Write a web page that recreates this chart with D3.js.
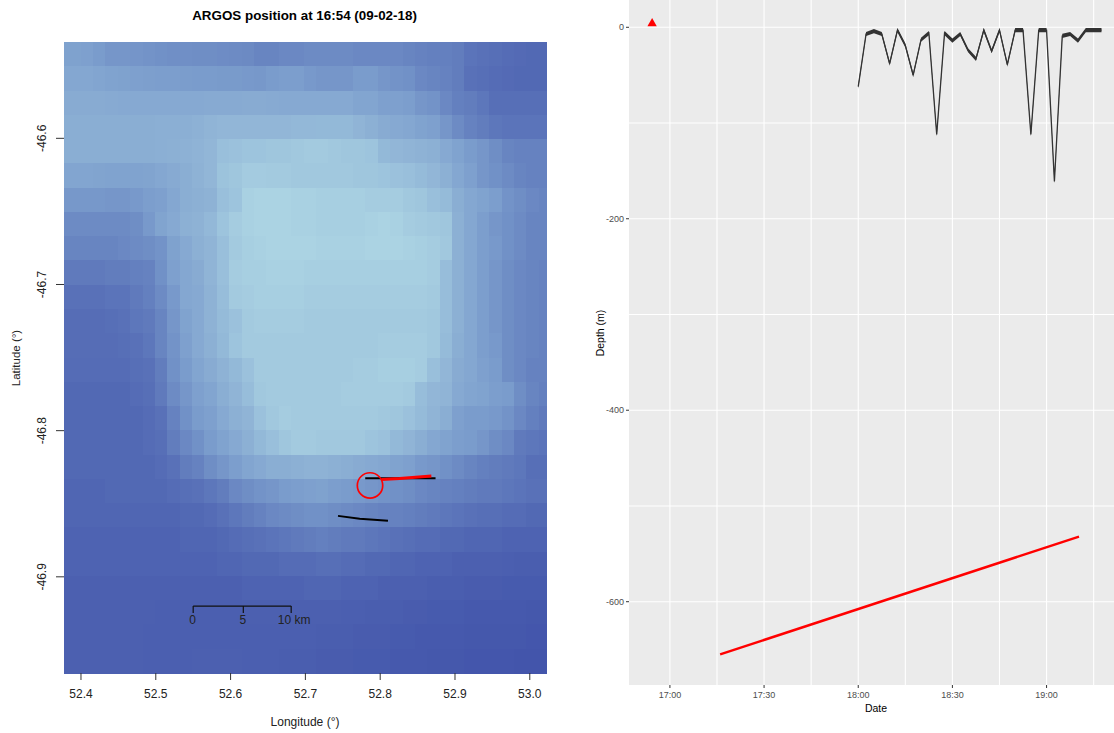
<!DOCTYPE html>
<html><head><meta charset="utf-8">
<script src="https://cdn.jsdelivr.net/npm/d3@7"></script>
<style>html,body{margin:0;padding:0;background:#fff}svg{display:block}text{font-family:"Liberation Sans",Arial,sans-serif}</style>
</head><body><svg id="c" width="1114" height="733"></svg>
<script>
// ---------- left panel data ----------
const titleText = "ARGOS position at 16:54 (09-02-18)";
const lonTicks = [52.4,52.5,52.6,52.7,52.8,52.9,53.0];
const latTicks = [-46.6,-46.7,-46.8,-46.9];
const gridFirstEdgeLon = 52.3996, gridStepLon = 0.01655;
const heatValues = [
[55,54,50,46,46,45,44,42,41,41, 40,40,39,38,37,34,34,36,36,38, 38,38,38,36,36,36,36,34,32,30, 30,28,22,20,18,16,15,14,14],
[60,60,58,56,55,54,53,52,52,51, 50,50,49,49,48,47,50,52,52,48, 46,46,46,50,50,46,44,42,36,34, 32,28,20,18,16,15,14,14,14],
[64,64,64,63,62,62,62,62,62,62, 62,63,63,63,64,64,63,62,62,62, 62,62,62,58,58,54,54,52,46,44, 36,30,28,24,18,18,18,18,18],
[66,66,66,66,66,66,66,67,67,67, 69,72,74,74,74,74,74,74,75,75, 76,76,76,72,68,64,62,60,56,54, 46,38,32,28,24,22,22,22,22],
[66,66,66,66,66,66,66,67,68,69, 71,74,82,84,86,86,88,88,90,92, 92,90,88,88,86,76,74,72,70,68, 62,56,50,46,40,34,32,32,32],
[58,58,57,56,56,56,57,60,63,66, 70,74,85,88,93,93,92,92,90,90, 90,90,90,88,88,86,84,82,78,74, 68,60,54,46,42,38,34,32,32],
[47,47,47,46,46,48,52,54,60,66, 68,70,82,86,98,100,100,100,98,98, 96,96,96,96,94,94,94,90,88,82, 78,66,60,56,52,44,40,36,34],
[38,38,38,38,38,40,48,57,62,68, 70,75,86,94,98,100,100,100,98,98, 96,96,96,96,98,100,98,94,92,90, 88,68,60,52,46,42,38,34,34],
[34,34,34,34,36,38,40,44,55,62, 68,72,82,92,96,98,100,100,100,100, 98,98,98,98,100,100,100,98,96,94, 90,68,60,52,48,42,38,34,34],
[26,26,26,28,28,30,32,42,54,60, 64,72,82,94,96,96,98,98,98,96, 96,96,96,96,96,96,96,96,96,94, 80,68,60,52,46,40,36,34,32],
[20,20,20,22,22,26,30,38,48,60, 62,70,80,92,94,96,96,96,96,94, 94,94,94,94,94,94,94,94,94,92, 80,68,60,52,46,40,36,34,32],
[17,17,17,18,20,24,26,34,46,56, 62,70,78,84,92,94,94,94,94,92, 92,92,92,92,92,92,92,92,92,90, 80,68,60,52,46,40,36,34,32],
[17,17,17,17,18,20,24,34,44,54, 62,68,76,86,92,92,92,92,92,92, 92,92,92,92,92,94,94,94,94,90, 78,66,60,52,48,40,36,34,32],
[16,16,16,16,16,18,20,28,42,50, 58,64,70,76,84,92,92,92,92,92, 92,92,92,94,94,96,96,96,94,82, 74,64,60,54,50,40,36,32,32],
[14,14,14,14,14,16,18,26,38,46, 54,58,66,72,80,90,92,92,92,92, 92,92,94,94,94,94,94,92,80,74, 72,62,58,56,52,50,40,34,30],
[14,14,14,14,14,14,16,20,32,42, 50,54,62,68,72,84,90,94,92,92, 92,92,92,92,92,90,88,84,78,72, 66,54,50,50,48,44,36,30,26],
[14,14,14,14,14,14,16,18,28,36, 42,50,56,62,68,76,82,88,92,92, 90,90,90,90,86,84,76,72,66,60, 56,52,50,46,40,36,26,24,22],
[14,14,14,14,14,14,14,16,20,28, 32,40,46,52,58,62,66,66,68,70, 70,68,66,64,62,60,56,54,48,46, 42,38,34,30,28,26,24,18,18],
[12,12,12,14,14,14,14,14,16,18, 20,24,28,36,40,44,46,50,52,54, 55,52,50,48,46,44,42,40,36,34, 32,30,28,26,26,24,22,20,20],
[12,12,12,12,12,12,12,12,12,14, 14,16,20,24,28,32,36,38,40,42, 42,40,38,36,34,32,32,30,28,26, 24,22,20,18,18,16,16,14,14],
[10,10,10,10,10,10,10,10,10,12, 12,12,14,16,18,20,22,24,26,28, 30,28,26,26,24,22,20,18,16,16, 14,14,12,12,12,10,10,10,10],
[10,10,10,10,10,10,10,10,10,10, 10,10,12,12,14,14,14,16,16,16, 18,18,16,16,14,14,12,12,10,10, 10,8,8,8,8,7,6,6,6],
[8,8,8,8,8,8,8,8,8,8, 8,8,8,8,10,10,10,10,10,12, 12,12,10,10,10,8,8,8,8,6, 6,6,5,5,5,4,4,4,4],
[8,8,8,8,8,8,8,7,7,7, 7,7,7,7,8,8,8,8,8,8, 8,8,7,7,6,6,6,5,5,4, 4,4,3,3,3,3,3,2,2],
[8,8,8,8,8,8,7,7,7,7, 7,7,7,7,7,7,7,7,7,7, 6,6,6,5,5,5,4,4,3,3, 3,3,2,2,2,2,2,1,1],
[8,8,8,8,8,8,7,7,7,7, 8,8,8,8,7,7,7,6,6,6, 5,5,5,4,4,4,3,3,3,2, 2,2,1,1,1,1,0,0,0]
];
const trackA = [[52.780,-46.8325],[52.874,-46.8325]];
const trackB = [[52.7436,-46.8583],[52.7726,-46.8602],[52.8104,-46.8617]];
const trackRed = [[52.8016,-46.8334],[52.826,-46.8328],[52.8684,-46.8311]];
const argosPos = [52.7864,-46.8375];
const scaleBarLons = [52.55,52.617,52.681];
const scaleBarLat = -46.92;
const scaleBarLabels = ["0","5","10 km"];

// ---------- right panel data ----------
const depthTicks = [0,-200,-400,-600];
const depthMinor = [-100,-300,-500];
const timeTicks = ["17:00","17:30","18:00","18:30","19:00"];
const timeMinor = ["17:15","17:45","18:15","18:45","19:15"];
const diveTimes = ["18:00:00","18:02:30","18:05:00","18:07:30","18:10:00","18:12:30","18:15:00","18:17:30","18:20:00","18:22:30","18:25:00","18:27:30","18:30:00","18:32:30","18:35:00","18:37:30","18:40:00","18:42:30","18:45:00","18:47:30","18:50:00","18:52:30","18:55:00","18:57:30","19:00:00","19:02:30","19:05:00","19:07:30","19:10:00","19:12:30","19:15:00","19:17:30"];
const diveDepths = [-62,-7,-4,-7,-38,-3,-19,-50,-13,-6,-112,-6,-14,-7,-24,-33,-3,-25,-3,-39,-3,-3,-112,-3,-3,-161,-9,-7,-14,-3,-3,-3];
const diveBandHalf = 2.2;
const redTimes = ["17:16:00","19:10:20"];
const redDepths = [-655,-532];
const markerTime = "16:54:20", markerDepth = 4;

// ---------- drawing ----------
const svg = d3.select("#c");
const L = {l:64,r:547,t:42,b:673};
const lon = d3.scaleLinear().domain([52.3773,53.0230]).range([L.l,L.r]);
const lat = d3.scaleLinear().domain([-46.9658,-46.5341]).range([L.b,L.t]);
const rowBand = d3.scaleBand().domain(d3.range(heatValues.length)).range([L.t,L.b]);
const heat = d3.scaleLinear().domain([0,50,100]).range(["#4355ab","#7a9ccc","#abd3e3"]);

const cells = svg.append("g").attr("shape-rendering","crispEdges");
const nCols = heatValues[0].length;
const colEdge = i => i<=0 ? L.l : i>=nCols ? L.r : lon(gridFirstEdgeLon+(i-1)*gridStepLon);
heatValues.forEach((row,ri)=>{
  cells.selectAll(null).data(row).join("rect")
    .attr("x",(d,i)=>colEdge(i)).attr("width",(d,i)=>colEdge(i+1)-colEdge(i))
    .attr("y",rowBand(ri)).attr("height",rowBand.bandwidth()+.5)
    .attr("fill",d=>heat(d));
});

const gx = svg.append("g");
lonTicks.forEach(t=>{
  gx.append("line").attr("x1",lon(t)).attr("x2",lon(t)).attr("y1",L.b).attr("y2",L.b+7).attr("stroke","#333");
  gx.append("text").attr("x",lon(t)).attr("y",698).attr("text-anchor","middle").attr("font-size",12).attr("fill","#222").text(t.toFixed(1));
});
latTicks.forEach(t=>{
  gx.append("line").attr("x1",L.l-8).attr("x2",L.l).attr("y1",lat(t)).attr("y2",lat(t)).attr("stroke","#333");
  gx.append("text").attr("transform",`translate(${46},${lat(t)}) rotate(-90)`).attr("text-anchor","middle").attr("font-size",12).attr("fill","#222").text(t.toFixed(1));
});
svg.append("text").attr("x",304.5).attr("y",20).attr("text-anchor","middle").attr("font-size",13.4).attr("font-weight","bold").attr("fill","#000").text(titleText);
svg.append("text").attr("x",305).attr("y",725.5).attr("text-anchor","middle").attr("font-size",12).attr("fill","#222").text("Longitude (°)");
svg.append("text").attr("transform","translate(20,358) rotate(-90)").attr("text-anchor","middle").attr("font-size",11.5).attr("fill","#222").text("Latitude (°)");

const geo = d3.line().x(d=>lon(d[0])).y(d=>lat(d[1]));
svg.append("path").attr("d",geo(trackA)).attr("fill","none").attr("stroke","#000").attr("stroke-width",2);
svg.append("path").attr("d",geo(trackB)).attr("fill","none").attr("stroke","#000").attr("stroke-width",2);
svg.append("path").attr("d",geo(trackRed)).attr("fill","none").attr("stroke","#f00").attr("stroke-width",3);
svg.append("circle").attr("cx",lon(argosPos[0])).attr("cy",lat(argosPos[1])).attr("r",12.7).attr("fill","none").attr("stroke","#f00").attr("stroke-width",1.7);

const barY = lat(scaleBarLat);
const bar = svg.append("g");
bar.append("line").attr("x1",lon(scaleBarLons[0])).attr("x2",lon(scaleBarLons[2])).attr("y1",barY).attr("y2",barY).attr("stroke","#111").attr("stroke-width",1.2);
scaleBarLons.forEach((v,i)=>{
  bar.append("line").attr("x1",lon(v)).attr("x2",lon(v)).attr("y1",barY).attr("y2",barY+7).attr("stroke","#111").attr("stroke-width",1.2);
  bar.append("text").attr("x",lon(v)+(i==2?3:-0.5)).attr("y",624).attr("text-anchor","middle").attr("font-size",12).attr("fill","#222").text(scaleBarLabels[i]);
});

// right panel
const R = {l:629,r:1114,t:0,b:685};
const day = "2018-02-09 ";
const pt = d3.timeParse("%Y-%m-%d %H:%M:%S");
const tp = s => pt(day+(s.length==5?s+":00":s));
const xT = d3.scaleTime().domain([tp("16:46:58"),tp("19:21:29")]).range([R.l,R.r]);
const yD = d3.scaleLinear().domain([28.5,-687]).range([R.t,R.b]);
svg.append("rect").attr("x",R.l).attr("y",R.t).attr("width",R.r-R.l).attr("height",R.b-R.t).attr("fill","#ebebeb");
const grid = svg.append("g").attr("stroke","#fff").attr("stroke-width",1.1);
depthTicks.concat(depthMinor).forEach(d=>grid.append("line").attr("x1",R.l).attr("x2",R.r).attr("y1",yD(d)).attr("y2",yD(d)));
timeTicks.concat(timeMinor).forEach(t=>grid.append("line").attr("x1",xT(tp(t))).attr("x2",xT(tp(t))).attr("y1",R.t).attr("y2",R.b));
depthTicks.forEach(d=>{
  svg.append("line").attr("x1",R.l-3).attr("x2",R.l).attr("y1",yD(d)).attr("y2",yD(d)).attr("stroke","#333");
  svg.append("text").attr("x",R.l-5).attr("y",yD(d)+3.2).attr("text-anchor","end").attr("font-size",9).attr("fill","#4d4d4d").text(d);
});
timeTicks.forEach(t=>{
  svg.append("line").attr("x1",xT(tp(t))).attr("x2",xT(tp(t))).attr("y1",R.b).attr("y2",R.b+3).attr("stroke","#333");
  svg.append("text").attr("x",xT(tp(t))).attr("y",698).attr("text-anchor","middle").attr("font-size",9).attr("fill","#4d4d4d").text(t);
});
svg.append("text").attr("x",876).attr("y",712).attr("text-anchor","middle").attr("font-size",10.5).attr("fill","#000").text("Date");
svg.append("text").attr("transform","translate(604,333) rotate(-90)").attr("text-anchor","middle").attr("font-size",10.5).attr("fill","#000").text("Depth (m)");

const dive = diveTimes.map((t,i)=>({t:tp(t),d:diveDepths[i]}));
svg.append("path").attr("d",d3.area().x(d=>xT(d.t)).y0(d=>yD(d.d-diveBandHalf)).y1(d=>yD(d.d+diveBandHalf))(dive)).attr("fill","#333");
svg.append("path").attr("d",d3.line().x(d=>xT(d.t)).y(d=>yD(d.d))(dive)).attr("fill","none").attr("stroke","#333").attr("stroke-width",1.3);
const red = redTimes.map((t,i)=>({t:tp(t),d:redDepths[i]}));
svg.append("path").attr("d",d3.line().x(d=>xT(d.t)).y(d=>yD(d.d))(red)).attr("fill","none").attr("stroke","#f00").attr("stroke-width",2.4);
svg.append("path").attr("d",d3.symbol().type(d3.symbolTriangle).size(38)()).attr("transform",`translate(${xT(tp(markerTime))},${yD(markerDepth)})`).attr("fill","#f00");
</script></body></html>
